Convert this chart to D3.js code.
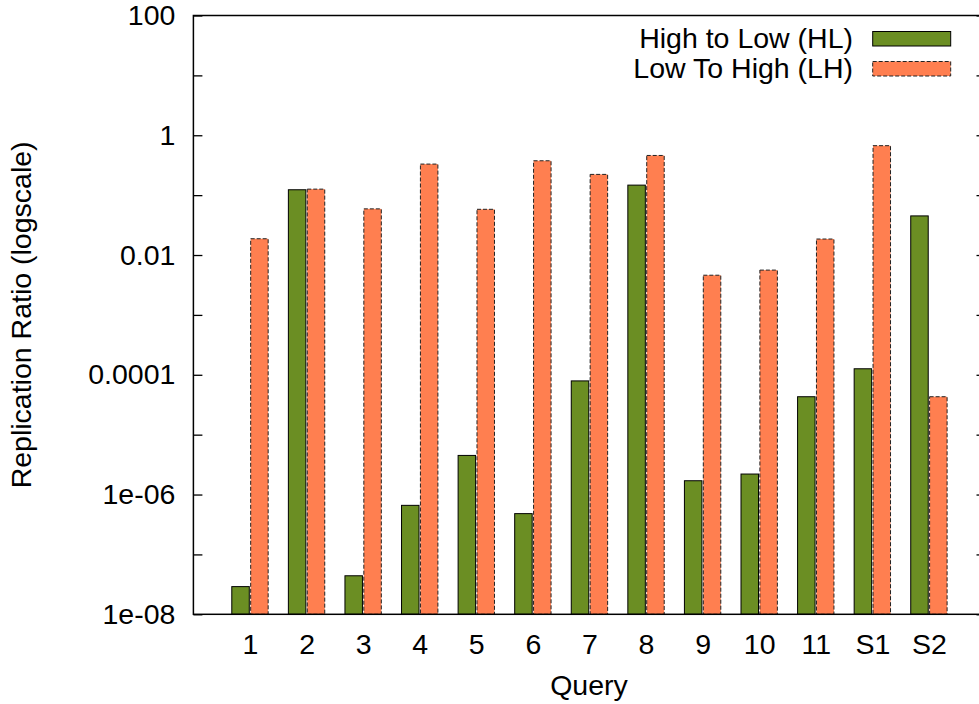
<!DOCTYPE html>
<html>
<head>
<meta charset="utf-8">
<script src="https://cdn.jsdelivr.net/npm/d3@7"></script>
<style>
  html, body { margin: 0; padding: 0; background: #fff; }
  svg { display: block; }
  text { font-family: "Liberation Sans", Arial, Helvetica, sans-serif; fill: #000; }
</style>
</head>
<body>
<svg id="chart" width="979" height="704"></svg>
<script>
// ---- data ----
const categories = ["1","2","3","4","5","6","7","8","9","10","11","S1","S2"];
const highToLow = [2.9e-8, 0.123, 4.4e-8, 6.6e-7, 4.5e-6, 4.8e-7, 7.9e-5, 0.147, 1.7e-6, 2.2e-6, 4.3e-5, 1.26e-4, 0.045];
const lowToHigh = [0.0187, 0.126, 0.059, 0.33, 0.058, 0.375, 0.222, 0.46, 0.0046, 0.0056, 0.0185, 0.67, 4.3e-5];
const seriesNames = ["High to Low (HL)", "Low To High (LH)"];
const yTickValues = [1e-8, 1e-7, 1e-6, 1e-5, 1e-4, 1e-3, 1e-2, 1e-1, 1, 10, 100];
const yTickLabelExps = [2, 0, -2, -4, -6, -8];
const yTickLabelTexts = ["100", "1", "0.01", "0.0001", "1e-06", "1e-08"];
const xLabel = "Query";
const yLabel = "Replication Ratio (logscale)";

// ---- layout ----
const svg = d3.select("#chart");
const pLeft = 193.4, pRight = 985.5, pTop = 15.5, pBottom = 614.3;
const FS = 28.5;
const colors = ["#6B8E23", "#FF7F50"];

const x = d3.scaleLinear().domain([0, categories.length + 1]).range([pLeft, pRight]);
const y = d3.scaleLog().domain([1e-8, 100]).range([pBottom, pTop]);
const step = x(1) - x(0);
const bw = step * 0.309;
const gap = 0.7;

// bars
svg.append("g").selectAll("rect").data(highToLow).join("rect")
  .attr("x", (d, i) => x(i + 1) - gap - bw)
  .attr("y", d => y(d))
  .attr("width", bw)
  .attr("height", d => pBottom - y(d))
  .attr("fill", colors[0])
  .attr("stroke", "#000")
  .attr("stroke-width", 1);

svg.append("g").selectAll("rect").data(lowToHigh).join("rect")
  .attr("x", (d, i) => x(i + 1) + gap)
  .attr("y", d => y(d))
  .attr("width", bw)
  .attr("height", d => pBottom - y(d))
  .attr("fill", colors[1])
  .attr("stroke", "#222")
  .attr("stroke-width", 1)
  .attr("stroke-dasharray", "4,2");

// axes
const fmt = d => {
  const e = Math.round(Math.log10(d));
  const k = yTickLabelExps.indexOf(e);
  return k >= 0 ? yTickLabelTexts[k] : "";
};
const yAxisL = svg.append("g").attr("transform", `translate(${pLeft},0)`)
  .call(d3.axisLeft(y).tickValues(yTickValues).tickFormat(fmt).tickSize(-9).tickPadding(18));
const yAxisR = svg.append("g").attr("transform", `translate(${pRight},0)`)
  .call(d3.axisRight(y).tickValues(yTickValues).tickFormat("").tickSize(-9));
[yAxisL, yAxisR].forEach(g => {
  g.select(".domain").remove();
  g.selectAll("line").attr("stroke", "#000").attr("stroke-width", 1.3);
  g.selectAll("text").style("font-size", FS + "px").attr("fill", "#000")
    .style("font-family", "'Liberation Sans', Arial, sans-serif");
});

const xAxis = svg.append("g").attr("transform", `translate(0,${pBottom})`)
  .call(d3.axisBottom(x).tickValues(d3.range(1, categories.length + 1))
    .tickFormat(i => categories[i - 1]).tickSize(0).tickPadding(19.5));
xAxis.select(".domain").remove();
xAxis.selectAll("text").style("font-size", FS + "px").attr("fill", "#000")
  .style("font-family", "'Liberation Sans', Arial, sans-serif");

// frame
svg.append("rect")
  .attr("x", pLeft).attr("y", pTop)
  .attr("width", pRight - pLeft).attr("height", pBottom - pTop)
  .attr("fill", "none").attr("stroke", "#000").attr("stroke-width", 1.5);

// axis titles
svg.append("text")
  .attr("x", 589).attr("y", 695)
  .attr("text-anchor", "middle").style("font-size", FS + "px")
  .text(xLabel);

svg.append("text")
  .attr("transform", `translate(31,${(pTop + pBottom) / 2}) rotate(-90)`)
  .attr("text-anchor", "middle").style("font-size", FS + "px")
  .text(yLabel);

// legend
const legend = svg.append("g");
const legY = [48, 78];
seriesNames.forEach((name, i) => {
  legend.append("text")
    .attr("x", 853).attr("y", legY[i])
    .attr("text-anchor", "end").style("font-size", FS + "px")
    .text(name);
  const r = legend.append("rect")
    .attr("x", 872.7).attr("y", legY[i] - 16.5)
    .attr("width", 78).attr("height", 14.5)
    .attr("fill", colors[i])
    .attr("stroke", i === 0 ? "#000" : "#222")
    .attr("stroke-width", 1);
  if (i === 1) r.attr("stroke-dasharray", "4,2");
});
</script>
</body>
</html>
